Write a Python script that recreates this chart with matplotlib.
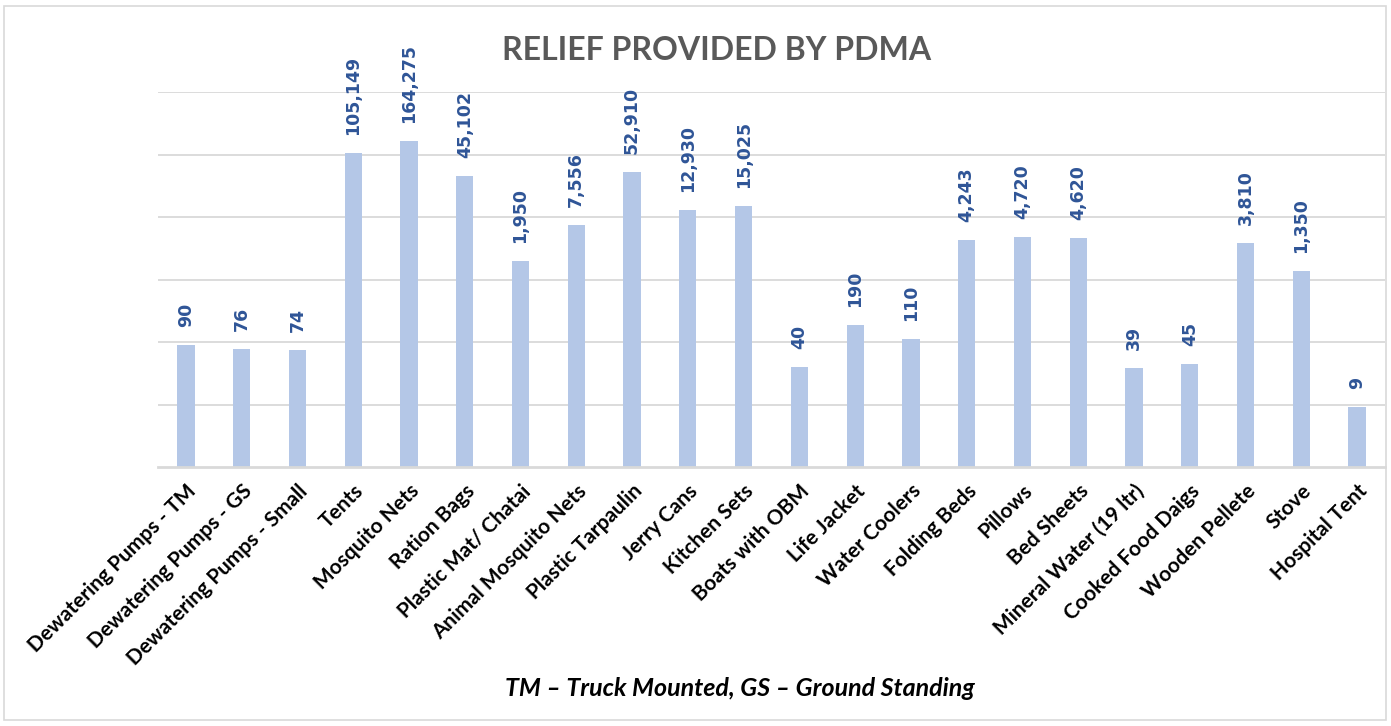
import numpy as np
import matplotlib.pyplot as plt
from matplotlib.patches import Rectangle

items = ["Dewatering Pumps - TM", "Dewatering Pumps - GS", "Dewatering Pumps - Small",
         "Tents", "Mosquito Nets", "Ration Bags", "Plastic Mat/ Chatai",
         "Animal Mosquito Nets", "Plastic Tarpaulin", "Jerry Cans", "Kitchen Sets",
         "Boats with OBM", "Life Jacket", "Water Coolers", "Folding Beds", "Pillows",
         "Bed Sheets", "Mineral Water (19 ltr)", "Cooked Food Daigs", "Wooden Pellete",
         "Stove", "Hospital Tent"]
quantities = [90, 76, 74, 105149, 164275, 45102, 1950, 7556, 52910, 12930, 15025,
              40, 190, 110, 4243, 4720, 4620, 39, 45, 3810, 1350, 9]

W, H = 1391, 726
fig = plt.figure(figsize=(W / 100, H / 100), dpi=100)
ax = fig.add_axes([158 / W, 1 - 467 / H, (1385 - 158) / W, (467 - 92) / H])

x = np.arange(len(items))
ax.bar(x, quantities, width=0.31, color='#B4C7E7', zorder=2)
ax.set_yscale('log')
ax.set_ylim(1, 1e6)
ax.set_xlim(-0.5, len(items) - 0.5)

# gridlines every decade
for v in [10, 100, 1000, 1e4, 1e5, 1e6]:
    ax.axhline(v, color='#D9D9D9', lw=1.3, zorder=1)
ax.axhline(1, color='#D9D9D9', lw=2, zorder=3, clip_on=False)

for xi, q in zip(x, quantities):
    ax.annotate(f"{q:,}", (xi, q), xytext=(0, 13), textcoords='offset points',
                rotation=90, ha='center', va='bottom', fontsize=12.5,
                fontweight='bold', color='#2F5597', family='DejaVu Sans')

ax.set_yticks([])
ax.set_yticks([], minor=True)
ax.set_xticks(x)
ax.set_xticklabels(items, rotation=45, ha='right', rotation_mode='anchor',
                   fontsize=15, fontweight='bold', family='Lato')
ax.tick_params(axis='x', length=0, pad=10)
for s in ax.spines.values():
    s.set_visible(False)

fig.text(717 / W, 1 - 50 / H, "RELIEF PROVIDED BY PDMA", ha='center', va='center',
         fontsize=23, fontweight='bold', color='#595959', family='Lato')
fig.text(740 / W, 1 - 688 / H, "TM \u2013 Truck Mounted, GS \u2013 Ground Standing",
         ha='center', va='center', fontsize=18, fontweight='bold', style='italic',
         family='Lato')

fig.patches.append(Rectangle((4 / W, 6 / H), (1386 - 4) / W, (720 - 6) / H,
                             transform=fig.transFigure, fill=False,
                             edgecolor='#D9D9D9', lw=1.2))

fig.savefig('out.png', dpi=100)
